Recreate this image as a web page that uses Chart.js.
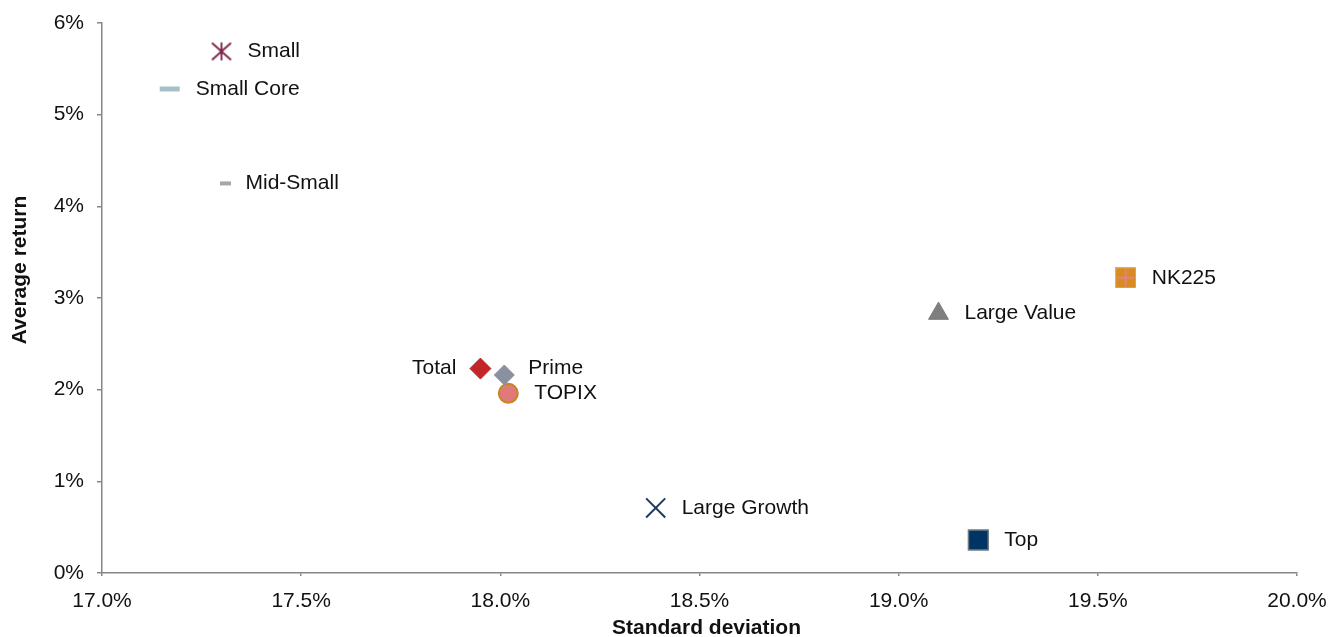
<!DOCTYPE html>
<html>
<head>
<meta charset="utf-8">
<script src="https://cdn.jsdelivr.net/npm/chart.js@4/dist/chart.umd.min.js"></script>
<style>
  html, body { margin: 0; padding: 0; background: #ffffff; }
  #wrap { width: 1328px; height: 637px; position: relative; }
</style>
</head>
<body>
<div id="wrap"><canvas id="c" width="1328" height="637"></canvas></div>
<script>
// ---- Data ----
const names = ['Small', 'Small Core', 'Mid-Small', 'Total', 'Prime', 'TOPIX', 'Large Growth', 'Top', 'Large Value', 'NK225'];
const stdDev = [17.30, 17.17, 17.31, 17.95, 18.01, 18.02, 18.39, 19.20, 19.10, 19.57];
const avgReturn = [5.69, 5.28, 4.25, 2.23, 2.16, 1.96, 0.71, 0.36, 2.83, 3.22];
const xTicks = [17.0, 17.5, 18.0, 18.5, 19.0, 19.5, 20.0];
const yTicks = [0, 1, 2, 3, 4, 5, 6];
const xTitle = 'Standard deviation';
const yTitle = 'Average return';

// ---- Custom marker images ----
function asteriskMarker() {
  const c = document.createElement('canvas');
  c.width = 22; c.height = 22;
  const g = c.getContext('2d');
  g.strokeStyle = '#7a1f47';
  g.lineWidth = 1.8;
  g.beginPath();
  g.moveTo(11, 2); g.lineTo(11, 20);
  g.moveTo(1.5, 2.5); g.lineTo(20.5, 19.5);
  g.moveTo(20.5, 2.5); g.lineTo(1.5, 19.5);
  g.stroke();
  return c;
}
function nkMarker() {
  const c = document.createElement('canvas');
  c.width = 21; c.height = 21;
  const g = c.getContext('2d');
  g.fillStyle = '#d98b1f';
  g.fillRect(0, 0, 21, 21);
  g.strokeStyle = '#e9a95e';
  g.lineWidth = 1;
  g.strokeRect(0.5, 0.5, 20, 20);
  g.strokeStyle = '#e8808c';
  g.lineWidth = 2;
  g.beginPath();
  g.moveTo(10.5, 2); g.lineTo(10.5, 19);
  g.moveTo(2, 10.5); g.lineTo(19, 10.5);
  g.stroke();
  return c;
}

// ---- Marker styles per series (style, not data) ----
const markerStyle = {
  'Small':        { pointStyle: asteriskMarker(), radius: 11, bg: '#7a1f47', border: '#7a1f47', bw: 1 },
  'Small Core':   { pointStyle: 'line', radius: 10, bg: '#a7c0c8', border: '#a7c0c8', bw: 5 },
  'Mid-Small':    { pointStyle: 'line', radius: 5.5, bg: '#a6a6a6', border: '#a6a6a6', bw: 4 },
  'Total':        { pointStyle: 'rectRot', radius: 10.5, bg: '#c0262a', border: '#c0262a', bw: 1 },
  'Prime':        { pointStyle: 'rectRot', radius: 10, bg: '#8a90a0', border: '#8a90a0', bw: 1 },
  'TOPIX':        { pointStyle: 'circle', radius: 9.5, bg: '#e07a7a', border: '#c8861e', bw: 2 },
  'Large Growth': { pointStyle: 'crossRot', radius: 13.5, bg: '#1f3a5f', border: '#1f3a5f', bw: 2 },
  'Top':          { pointStyle: 'rect', radius: 14, bg: '#003462', border: '#6f7a86', bw: 1.5 },
  'Large Value':  { pointStyle: 'triangle', radius: 11.5, bg: '#7f7f7f', border: '#7f7f7f', bw: 1 },
  'NK225':        { pointStyle: nkMarker(), radius: 11, bg: '#d98b1f', border: '#d98b1f', bw: 1 }
};

// Label placement (pixel offsets from marker)
const labelPlacement = {
  'Total': { dx: -24, dy: 0, align: 'right' },
  'Prime': { dx: 24, dy: -7, align: 'left' },
  'Mid-Small': { dx: 20, dy: 0, align: 'left' }
};

const FONT = "'Liberation Sans', Arial, sans-serif";
const FS = 21;

const pointLabels = {
  id: 'pointLabels',
  afterDatasetsDraw(chart) {
    const ctx = chart.ctx;
    ctx.save();
    ctx.font = FS + 'px ' + FONT;
    ctx.fillStyle = '#111111';
    ctx.textBaseline = 'middle';
    chart.data.datasets.forEach((ds, di) => {
      const meta = chart.getDatasetMeta(di);
      meta.data.forEach((pt) => {
        const name = ds.label;
        const p = labelPlacement[name] || { dx: 26, dy: 0, align: 'left' };
        ctx.textAlign = p.align;
        ctx.fillText(name, pt.x + p.dx, pt.y + p.dy);
      });
    });
    ctx.restore();
  }
};

// Axis titles placed as in the reference (Excel-style offsets)
const axisTitles = {
  id: 'axisTitles',
  afterDraw(chart) {
    const ctx = chart.ctx;
    const a = chart.chartArea;
    ctx.save();
    ctx.font = 'bold ' + FS + 'px ' + FONT;
    ctx.fillStyle = '#111111';
    ctx.textAlign = 'center';
    ctx.textBaseline = 'middle';
    ctx.fillText(xTitle, (a.left + a.right) / 2 + 7, 628);
    ctx.translate(20, (a.top + a.bottom) / 2 - 28);
    ctx.rotate(-Math.PI / 2);
    ctx.fillText(yTitle, 0, 0);
    ctx.restore();
  }
};

const datasets = names.map((n, i) => {
  const s = markerStyle[n];
  return {
    label: n,
    data: [{ x: stdDev[i], y: avgReturn[i] }],
    pointStyle: s.pointStyle,
    pointRadius: s.radius,
    pointHoverRadius: s.radius,
    backgroundColor: s.bg,
    borderColor: s.border,
    borderWidth: s.bw,
    pointBorderWidth: s.bw
  };
});

new Chart(document.getElementById('c'), {
  type: 'scatter',
  data: { datasets },
  plugins: [pointLabels, axisTitles],
  options: {
    responsive: false,
    animation: false,
    layout: { padding: { top: 23, right: 31, left: 0, bottom: 0 } },
    plugins: { legend: { display: false }, tooltip: { enabled: false } },
    scales: {
      x: {
        type: 'linear',
        min: xTicks[0],
        max: xTicks[xTicks.length - 1],
        afterBuildTicks(scale) { scale.ticks = xTicks.map(v => ({ value: v })); },
        afterFit(scale) { scale.height = 64; scale.paddingRight = 0; scale.paddingLeft = 0; },
        border: { display: true, color: '#868686', width: 1.5 },
        grid: { display: true, drawOnChartArea: false, drawTicks: true, tickLength: 3, color: '#868686', lineWidth: 1.5 },
        ticks: {
          padding: 13,
          color: '#111111',
          font: { family: FONT, size: FS },
          maxRotation: 0,
          callback: (v) => Number(v).toFixed(1) + '%'
        },
        title: { display: false }
      },
      y: {
        type: 'linear',
        min: yTicks[0],
        max: yTicks[yTicks.length - 1],
        afterBuildTicks(scale) { scale.ticks = yTicks.map(v => ({ value: v })); },
        afterFit(scale) { scale.width = 102; scale.paddingTop = 0; scale.paddingBottom = 0; },
        border: { display: true, color: '#868686', width: 1.5 },
        grid: { display: true, drawOnChartArea: false, drawTicks: true, tickLength: 5, color: '#868686', lineWidth: 1.5 },
        ticks: {
          padding: 13,
          color: '#111111',
          font: { family: FONT, size: FS },
          callback: (v) => v + '%'
        },
        title: { display: false }
      }
    }
  }
});
</script>
</body>
</html>
